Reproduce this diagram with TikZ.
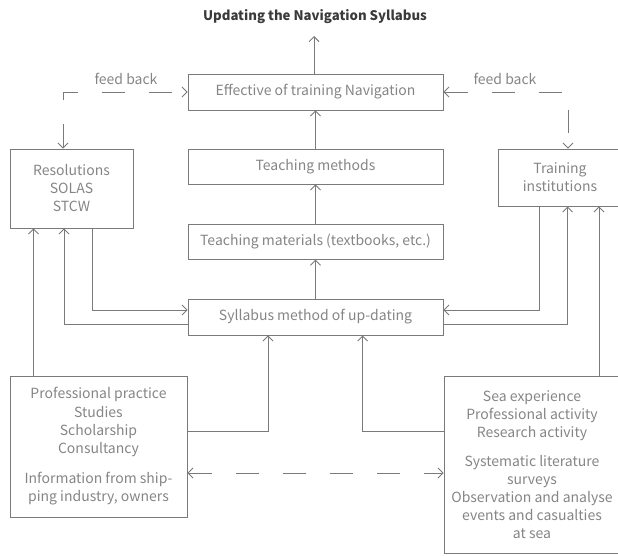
\documentclass[tikz,border=0pt]{standalone}
\usepackage{fontspec}
\setmainfont{Noto Sans CJK SC}
\usetikzlibrary{arrows.meta}
\definecolor{ln}{HTML}{7A7A7A}
\definecolor{tx}{HTML}{858585}
\definecolor{ttl}{HTML}{3A3A3A}
\tikzset{
  box/.style={draw=ln, line width=0.9pt, rectangle, inner sep=0pt, align=center,
    text=tx, font=\fontsize{14}{18}\selectfont},
  conn/.style={draw=ln, line width=0.9pt, -{Straight Barb[length=5pt,width=10pt]}},
  fb/.style={draw=ln, line width=0.9pt, dash pattern=on 23pt off 24pt},
  lbl/.style={text=tx, font=\fontsize{14}{16}\selectfont, inner sep=0pt}
}
\begin{document}
\begin{tikzpicture}[x=1pt,y=-1pt]
\clip (0,0) rectangle (618,555);
\node[inner sep=0pt, text=ttl, font=\fontsize{13.2}{16}\selectfont\bfseries] (title) at (315,17) {Updating the Navigation Syllabus};
\coordinate (ttip) at (314,36);

\node[box, minimum width=255pt, minimum height=36pt] (eff) at (315.5,92) {Effective of training Navigation};
\node[box, minimum width=255pt, minimum height=35pt] (meth) at (315.5,166.5) {Teaching methods};
\node[box, minimum width=255pt, minimum height=35pt] (mat) at (315.5,241.7) {Teaching materials (textbooks, etc.)};
\node[box, minimum width=255pt, minimum height=36pt] (syl) at (315.5,317) {Syllabus method of up-dating};

\node[box, minimum width=123pt, minimum height=79pt] (res) at (71.5,188.5) {Resolutions\\SOLAS\\STCW};
\node[box, minimum width=124pt, minimum height=57pt] (tr) at (560,177.5) {Training\\institutions};

\node[box, minimum width=177pt, minimum height=141pt] (prof) at (98.5,446.5)
  {Professional practice\\[1pt]Studies\\Scholarship\\Consultancy\\[12pt]Information from ship-\\ping industry, owners};
\node[box, minimum width=176pt, minimum height=177pt] (sea) at (532,464.5)
  {Sea experience\\Professional activity\\Research activity\\[11pt]Systematic literature\\surveys\\Observation and analyse\\events and casualties\\at sea};

\node[lbl] (fbl) at (126,79) {feed back};
\node[lbl] (fbr) at (505,79) {feed back};

% vertical chain
\draw[conn] (eff.north -| ttip) -- (ttip);
\draw[conn] (meth.north) -- (eff.south);
\draw[conn] (mat.north) -- (meth.south);
\draw[conn] (syl.north) -- (mat.south);

% feedback
\coordinate (fL) at (63,92);
\coordinate (fR) at (568,92);
\draw[fb, {Straight Barb[length=5pt,width=10pt]}-{Straight Barb[length=5pt,width=10pt]}] (res.north -| fL) -- (fL) -- (eff.west);
\draw[fb, {Straight Barb[length=5pt,width=10pt]}-{Straight Barb[length=5pt,width=10pt]}] (eff.east) -- (fR) -- (tr.north -| fR);

\coordinate (a1) at (33.5,0);
\coordinate (a2) at (64,0);
\coordinate (a3) at (92.6,0);
\coordinate (b1) at (539,0);
\coordinate (b2) at (567.6,0);
\coordinate (b3) at (599,0);
\coordinate (d1) at (268,0);
\coordinate (d2) at (362.6,0);

\draw[conn] (prof.north -| a1) -- (res.south -| a1);
\draw[conn] ([yshift=-7.3pt]syl.west) -| (res.south -| a2);
\draw[conn] (res.south -| a3) |- ([yshift=7pt]syl.west);

\draw[conn] (tr.south -| b1) |- ([yshift=7pt]syl.east);
\draw[conn] ([yshift=-7.3pt]syl.east) -| (tr.south -| b2);
\draw[conn] (sea.north -| b3) -- (tr.south -| b3);

\draw[conn] ([yshift=15.5pt]prof.east) -| (syl.south -| d1);
\draw[conn] ([yshift=33.5pt]sea.west) -| (syl.south -| d2);

\draw[fb, dash phase=46.5pt, {Straight Barb[length=5pt,width=10pt]}-{Straight Barb[length=5pt,width=10pt]}] ([yshift=-26.5pt]prof.east) -- ([yshift=-8.5pt]sea.west);
\end{tikzpicture}
\end{document}
